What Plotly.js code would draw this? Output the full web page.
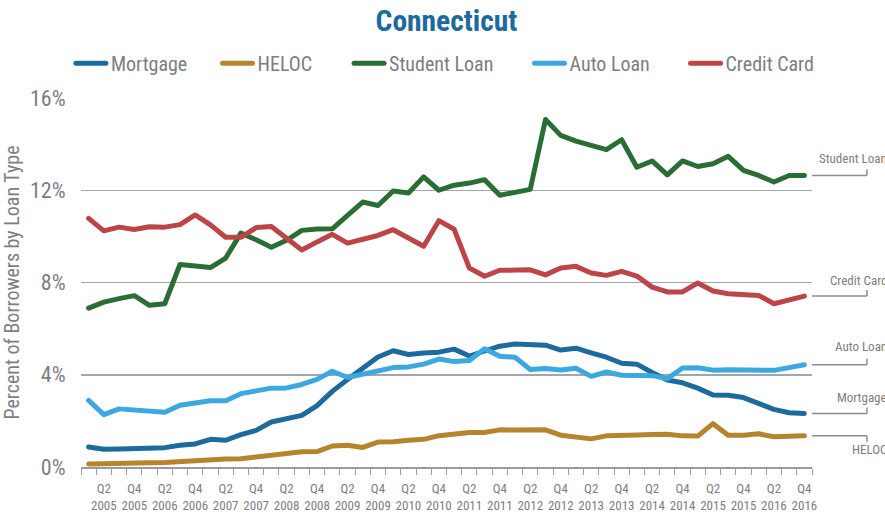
<!DOCTYPE html>
<html>
<head>
<meta charset="utf-8">
<script src="https://cdn.plot.ly/plotly-3.0.1.min.js"></script>
<style>
html,body{margin:0;padding:0;background:#fff;}
#chart{width:885px;height:517px;}
.js-line{stroke-linejoin:round !important;stroke-linecap:round !important;}
.legendlines path{stroke-linecap:round !important;}
</style>
</head>
<body>
<div id="chart"></div>
<script>
var quarters = [
 'Q1 2005','Q2 2005','Q3 2005','Q4 2005','Q1 2006','Q2 2006','Q3 2006','Q4 2006',
 'Q1 2007','Q2 2007','Q3 2007','Q4 2007','Q1 2008','Q2 2008','Q3 2008','Q4 2008',
 'Q1 2009','Q2 2009','Q3 2009','Q4 2009','Q1 2010','Q2 2010','Q3 2010','Q4 2010',
 'Q1 2011','Q2 2011','Q3 2011','Q4 2011','Q1 2012','Q2 2012','Q3 2012','Q4 2012',
 'Q1 2013','Q2 2013','Q3 2013','Q4 2013','Q1 2014','Q2 2014','Q3 2014','Q4 2014',
 'Q1 2015','Q2 2015','Q3 2015','Q4 2015','Q1 2016','Q2 2016','Q3 2016','Q4 2016'
];
var mortgage = [0.87,0.77,0.78,0.79,0.82,0.84,0.94,1.00,1.20,1.16,1.40,1.59,
 1.95,2.07,2.24,2.66,3.28,3.79,4.30,4.77,5.04,4.88,4.94,4.98,
 5.11,4.81,5.03,5.24,5.33,5.32,5.28,5.07,5.15,4.95,4.76,4.50,
 4.46,4.10,3.77,3.65,3.42,3.12,3.11,3.01,2.78,2.50,2.35,2.32];
var heloc = [0.13,0.13,0.13,0.15,0.18,0.19,0.24,0.28,0.35,0.35,0.36,0.44,
 0.55,0.63,0.66,0.67,0.91,0.94,0.85,1.08,1.09,1.16,1.20,1.36,
 1.45,1.50,1.50,1.61,1.60,1.60,1.61,1.38,1.29,1.22,1.35,1.39,
 1.39,1.41,1.42,1.35,1.34,1.88,1.38,1.38,1.44,1.31,1.31,1.35];
var studentLoan = [6.89,7.15,7.30,7.43,7.01,7.08,8.78,8.74,8.65,9.06,10.14,9.85,
 9.53,9.83,10.26,10.32,10.33,10.91,11.49,11.34,11.97,11.88,12.58,12.00,
 12.22,12.31,12.46,11.78,11.92,12.04,15.07,14.38,14.13,13.95,13.76,14.19,
 13.00,13.27,12.67,13.27,13.03,13.15,13.47,12.86,12.64,12.36,12.64,12.64];
var autoLoan = [2.89,2.27,2.52,2.48,2.42,2.37,2.68,2.75,2.87,2.87,3.18,3.30,
 3.42,3.43,3.58,3.80,4.15,3.88,4.02,4.14,4.31,4.34,4.46,4.68,
 4.57,4.62,5.13,4.80,4.76,4.23,4.27,4.21,4.28,3.93,4.12,3.98,
 3.98,3.96,3.83,4.29,4.30,4.20,4.22,4.20,4.19,4.19,4.31,4.43];
var creditCard = [10.78,10.24,10.40,10.30,10.42,10.40,10.51,10.93,10.50,9.96,9.96,10.38,
 10.43,9.92,9.41,9.76,10.09,9.71,9.86,10.04,10.29,9.93,9.57,10.68,
 10.31,8.63,8.27,8.53,8.53,8.55,8.33,8.63,8.70,8.41,8.31,8.48,
 8.28,7.80,7.59,7.59,7.98,7.63,7.51,7.47,7.44,7.08,7.23,7.41];
var seriesNames = ['Mortgage','HELOC','Student Loan','Auto Loan','Credit Card'];
var seriesColors = ['#1d6a9c','#b5842c','#2a6e36','#3ba9e0','#bc4548'];
var seriesValues = [mortgage, heloc, studentLoan, autoLoan, creditCard];
var yTicks = [0,4,8,12,16];

var FONT = '"Roboto Condensed","Liberation Sans Narrow","DejaVu Sans Condensed",Roboto,sans-serif';
var GRAY = '#7d7d84';

var xIdx = quarters.map(function(q,i){return i;});
var tickVals = [], tickText = [];
quarters.forEach(function(q,i){
  var p = q.split(' ');
  if (p[0]==='Q2' || p[0]==='Q4') { tickVals.push(i); tickText.push(p[0]+'<br>'+p[1]); }
});

var legendIds = ['legend','legend2','legend3','legend4','legend5'];
var legendX = [-0.0138, 0.1868, 0.3667, 0.6136, 0.8270];

var traces = seriesNames.map(function(n,k){
  return {x: xIdx, y: seriesValues[k], name: n, type:'scatter', mode:'lines',
    legend: legendIds[k],
    line:{color: seriesColors[k], width:5}, cliponaxis:false, hoverinfo:'skip'};
});

var shapes = [], annotations = [];
var labelShift = [16,-14,17,18,16];
var tickDir = [6,-6,6,6,6];
seriesValues.forEach(function(v,k){
  var last = v[v.length-1];
  shapes.push({type:'line', xref:'paper', yref:'y', x0:1, x1:1.0752, y0:last, y1:last,
    line:{color:'#8c8c94', width:1.5}});
  shapes.push({type:'line', xref:'paper', yref:'y', ysizemode:'pixel', yanchor:last,
    x0:1.0752, x1:1.0752, y0:0, y1:tickDir[k], line:{color:'#8c8c94', width:1.5}});
  annotations.push({xref:'paper', yref:'y', x:1.1053, y:last, xanchor:'right', yanchor:'middle',
    yshift: labelShift[k], text: seriesNames[k], showarrow:false,
    font:{family:FONT, size:13, color:GRAY}});
});

var layout = {
  width:885, height:517,
  margin:{l:81, r:73, t:98, b:50},
  paper_bgcolor:'#fff', plot_bgcolor:'#fff',
  title:{text:'<b>Connecticut</b>', x:0.5, xref:'paper', y:0.960, yref:'container', yanchor:'middle',
    font:{family:FONT, size:29.5, color:'#1d6a9c'}},
  showlegend:true,
  xaxis:{range:[-0.5,47.5], tickmode:'array', tickvals:tickVals, ticktext:tickText,
    ticks:'outside', ticklen:9, tickcolor:'rgba(0,0,0,0)',
    tickfont:{family:FONT, size:13, color:GRAY}, tickangle:0,
    showgrid:false, zeroline:false, showline:true, linecolor:'#9a9aa2', linewidth:1.5,
    minor:{ticks:'outside', tick0:-0.5, dtick:1, ticklen:6, tickwidth:1, tickcolor:'#9a9aa2', showgrid:false},
    fixedrange:true},
  yaxis:{range:[0,16], tickmode:'array', tickvals:yTicks,
    ticktext: yTicks.map(function(v){return v+'%';}),
    ticks:'outside', ticklen:10, tickcolor:'rgba(0,0,0,0)',
    tickfont:{family:FONT, size:22, color:GRAY},
    showgrid:true, gridcolor:'#a4a4ac', gridwidth:1.5, zeroline:false, showline:false,
    title:{text:'Percent of Borrowers by Loan Type', font:{family:FONT, size:20, color:GRAY}, standoff:9},
    fixedrange:true},
  shapes:shapes, annotations:annotations
};
legendIds.forEach(function(id,k){
  layout[id] = {orientation:'h', x:legendX[k], xanchor:'left', y:1.094, yanchor:'middle',
    font:{family:FONT, size:20, color:GRAY}, itemwidth:30, bgcolor:'rgba(0,0,0,0)'};
});
Plotly.newPlot('chart', traces, layout, {displayModeBar:false, staticPlot:true});
</script>
</body>
</html>
